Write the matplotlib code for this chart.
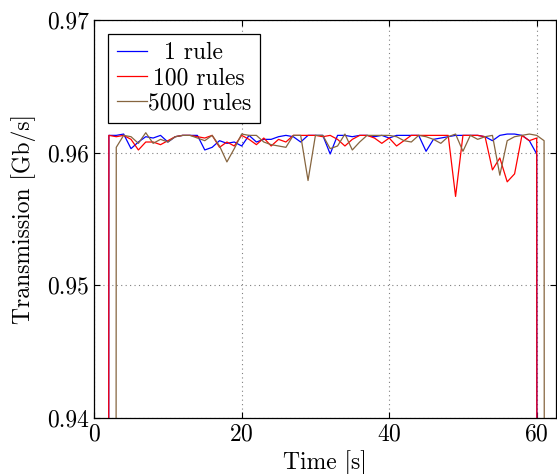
import numpy as np
import matplotlib
matplotlib.use("Agg")
import matplotlib.pyplot as plt

plt.rcParams['font.family'] = 'serif'
plt.rcParams['font.serif'] = ['cmr10', 'DejaVu Serif']
plt.rcParams['mathtext.fontset'] = 'cm'
plt.rcParams['axes.formatter.use_mathtext'] = True

# time in seconds, one sample per second
t_a = np.arange(0, 62)
t_b = np.arange(0, 63)

rule1 = [0, 0, 0.9613, 0.9613, 0.9614, 0.9603, 0.9608, 0.9612, 0.9611, 0.9613,
         0.9608, 0.9612, 0.9613, 0.9613, 0.9613, 0.9602, 0.9604, 0.9609, 0.9607, 0.9608,
         0.9605, 0.9613, 0.9608, 0.9610, 0.9610, 0.9612, 0.9613, 0.9612, 0.9608, 0.9613,
         0.9613, 0.9613, 0.9599, 0.9613, 0.9613, 0.9612, 0.9613, 0.9613, 0.9612, 0.9613,
         0.9611, 0.9613, 0.9613, 0.9613, 0.9613, 0.9601, 0.9610, 0.9611, 0.9612, 0.9613,
         0.9613, 0.9613, 0.9613, 0.9612, 0.9609, 0.9613, 0.9614, 0.9614, 0.9613, 0.9609,
         0.9599, 0]

rule100 = [0, 0, 0.9613, 0.9612, 0.9613, 0.9610, 0.9602, 0.9608, 0.9608, 0.9606,
           0.9609, 0.9612, 0.9613, 0.9613, 0.9612, 0.9611, 0.9613, 0.9604, 0.9608, 0.9605,
           0.9613, 0.9610, 0.9606, 0.9611, 0.9605, 0.9610, 0.9608, 0.9613, 0.9613, 0.9613,
           0.9613, 0.9612, 0.9613, 0.9610, 0.9605, 0.9610, 0.9613, 0.9613, 0.9611, 0.9607,
           0.9611, 0.9605, 0.9609, 0.9613, 0.9613, 0.9613, 0.9613, 0.9613, 0.9613, 0.9567,
           0.9613, 0.9613, 0.9613, 0.9612, 0.9587, 0.9596, 0.9578, 0.9584, 0.9613, 0.9609,
           0.9611, 0]

rule5000 = [0, 0, 0, 0.9604, 0.9613, 0.9612, 0.9607, 0.9615, 0.9607, 0.9610,
            0.9608, 0.9612, 0.9613, 0.9613, 0.9611, 0.9609, 0.9613, 0.9605, 0.9593, 0.9603,
            0.9614, 0.9613, 0.9613, 0.9608, 0.9606, 0.9605, 0.9604, 0.9613, 0.9613, 0.9579,
            0.9613, 0.9613, 0.9603, 0.9605, 0.9614, 0.9602, 0.9608, 0.9613, 0.9613, 0.9613,
            0.9613, 0.9612, 0.9609, 0.9608, 0.9613, 0.9612, 0.9610, 0.9607, 0.9612, 0.9614,
            0.9601, 0.9613, 0.9610, 0.9612, 0.9613, 0.9583, 0.9609, 0.9612, 0.9613, 0.9614,
            0.9613, 0.9609, 0]

fig = plt.figure(figsize=(5.57, 4.74), dpi=100)
ax = fig.add_axes([0.169, 0.118, 0.829, 0.84])

ax.plot(t_a, rule1, color='#0000ff', lw=0.9, label='1 rule')
ax.plot(t_a, rule100, color='#ff0000', lw=0.9, label='100 rules')
ax.plot(t_b, rule5000, color='#86653f', lw=0.9, label='5000 rules')

ax.set_xlim(0, 62.6)
ax.set_ylim(0.94, 0.97)
ax.set_xticks([0, 20, 40, 60])
ax.set_yticks([0.94, 0.95, 0.96, 0.97])
ax.set_yticklabels(['0.94', '0.95', '0.96', '0.97'])
ax.tick_params(direction='in', top=True, right=True, labelsize=17, length=4, pad=4)
ax.grid(True, linestyle=(0, (1, 3)), color='#808080', lw=0.8)
for s in ax.spines.values():
    s.set_linewidth(0.9)

ax.set_xlabel('Time [s]', fontsize=17, labelpad=3)
ax.set_ylabel('Transmission [Gb/s]', fontsize=17, labelpad=8)

leg = ax.legend(loc='upper left', fontsize=17, fancybox=False, framealpha=1,
                edgecolor='black', handlelength=1.3, handletextpad=0.05,
                borderpad=0.35, labelspacing=0.12, borderaxespad=0.6)
leg.get_frame().set_linewidth(0.9)

# centre the legend labels in their column
fig.canvas.draw()
texts = leg.get_texts()
widths = [t.get_window_extent().width for t in texts]
wmax = max(widths)
for t, w in zip(texts, widths):
    t.set_x((wmax - w) / 2 * 72.0 / fig.dpi)

fig.savefig('out.png', dpi=100)
